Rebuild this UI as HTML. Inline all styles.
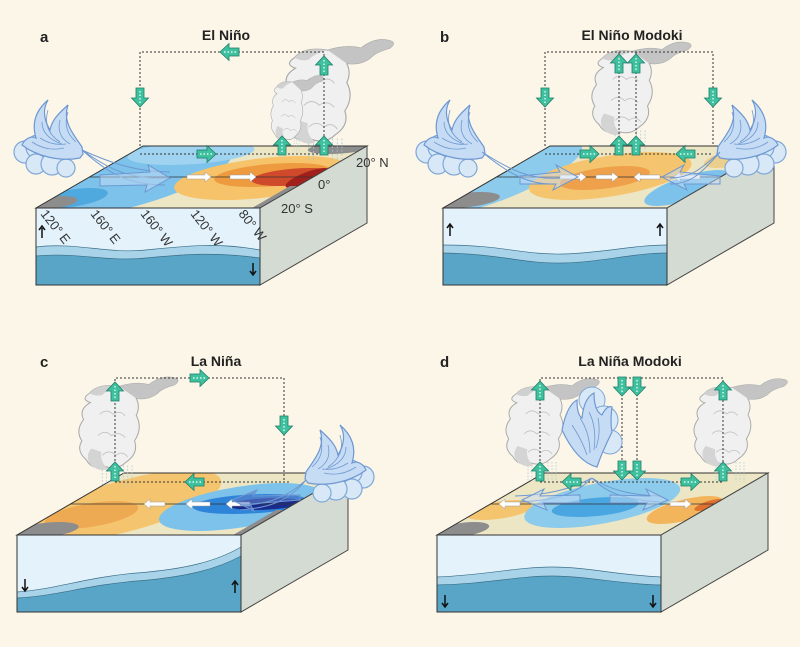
<!DOCTYPE html>
<html><head><meta charset="utf-8"><style>
html,body{margin:0;padding:0;background:#fbf6e7;}
svg{display:block}
text{font-family:"Liberation Sans",sans-serif;}
</style></head><body>
<svg width="800" height="647" viewBox="0 0 800 647" xmlns="http://www.w3.org/2000/svg">
<defs>
<symbol id="ga" viewBox="-9 -10 18 20" overflow="visible">
<polygon points="-4,9 4,9 4,-1 8.5,-1 0,-10 -8.5,-1 -4,-1" fill="#3fc1a0" stroke="#1f7d68" stroke-width="0.8"/>
<line x1="0" y1="-6" x2="0" y2="8" stroke="#fff" stroke-width="1.2" stroke-dasharray="1.5 2"/>
</symbol>
<g id="cloud">
<path d="M-30,-55 q10,-12 35,-8 q20,-6 35,-2 q15,-12 30,-8 q8,2 0,8 q-15,4 -20,10 q-10,8 -25,6 q5,10 0,20 q8,15 -2,30 q5,15 -10,25 q-10,10 -25,5 q-15,5 -22,-8 q-12,-10 -5,-22 q-8,-12 2,-25 q-6,-12 8,-20 q-12,-4 -1,-11z" fill="#f0f0f0" stroke="#a9a9a9" stroke-width="1.2"/>
<path d="M5,-63 q20,-6 35,-2 q15,-12 30,-8 q8,2 0,8 q-15,4 -20,10 q-10,8 -25,6z" fill="#c4c4c4"/>
<path d="M-30,-55 q10,-12 35,-8 q-15,4 -20,10 q-8,2 -15,-2z" fill="#d0d0d0"/>
<g fill="none" stroke="#c2c2c2" stroke-width="1">
<path d="M-18,-30 q8,-8 16,0 q8,-6 14,2"/><path d="M-20,-5 q8,-8 16,0 q8,-6 16,2"/><path d="M-15,18 q8,-8 16,0 q8,-6 14,2"/>
</g>
<path d="M-28,10 q-8,10 0,20 q10,8 20,4 q-10,-8 -8,-20z" fill="#d4d4d4"/>
<g stroke="#9fc4dc" stroke-width="0.8" stroke-dasharray="2 2">
<line x1="-15" y1="35" x2="-15" y2="55"/><line x1="-10" y1="35" x2="-10" y2="55"/><line x1="10" y1="30" x2="10" y2="55"/><line x1="15" y1="30" x2="15" y2="55"/><line x1="20" y1="30" x2="20" y2="55"/>
</g>
</g>
<g id="wind">
<g fill="#d8e8f7" stroke="#7fa7d8" stroke-width="1.2">
<circle cx="-55" cy="2" r="11"/><circle cx="-42" cy="-3" r="12"/><circle cx="-44" cy="14" r="10"/><circle cx="-28" cy="14" r="11"/><circle cx="-14" cy="18" r="9"/>
</g>
<path d="M2,-3 C-6,-15 -18,-28 -12,-45 C-22,-36 -28,-30 -30,-20 C-36,-30 -38,-40 -32,-50 C-46,-38 -48,-25 -44,-12 C-50,-15 -56,-10 -58,-5 C-44,6 -20,12 0,8 l3,-4 z" fill="#c6dcf4" stroke="#6e98d2" stroke-width="1.2"/>
<g fill="none" stroke="#6e98d2" stroke-width="0.8">
<path d="M-12,-38 q-6,18 8,30"/><path d="M-20,-30 q-4,16 10,24"/><path d="M-32,-40 q-6,20 12,32"/><path d="M-38,-28 q0,15 20,22"/><path d="M-48,-8 q15,10 32,6"/><path d="M-40,-12 q12,8 26,6"/>
</g>
</g>
</defs>

<!-- ================= PANEL A ================= -->
<text x="40" y="42" font-size="15" font-weight="bold" fill="#222">a</text>
<text x="226" y="40" font-size="14" font-weight="bold" fill="#222" text-anchor="middle">El Niño</text>
<g transform="translate(36,208)">
  <clipPath id="ta"><polygon points="0,0 224,0 331,-62 107,-62"/></clipPath>
  <g clip-path="url(#ta)"><g transform="matrix(1,0,1.726,-1,0,0)">
    <rect x="-5" y="-5" width="240" height="75" fill="#ede6c4"/>
    <ellipse cx="40" cy="30" rx="80" ry="40" fill="#7cc2ea"/>
    <ellipse cx="60" cy="55" rx="60" ry="12" fill="#9fd3f0"/>
    <ellipse cx="20" cy="10" rx="30" ry="10" fill="#4fa8de"/>
    <ellipse cx="5" cy="5" rx="25" ry="7" fill="#8d8d8d"/>
    <ellipse cx="175" cy="30" rx="80" ry="22" fill="#f6c36a"/>
    <ellipse cx="180" cy="33" rx="55" ry="12" fill="#ee9a3f"/>
    <ellipse cx="205" cy="31" rx="40" ry="9" fill="#cf4a2a"/>
    <ellipse cx="220" cy="30" rx="14" ry="10" fill="#a2201c"/>
    <rect x="216" y="0" width="12" height="22" fill="#8d8d8d"/>
    <ellipse cx="200" cy="60" rx="30" ry="6" fill="#8d8d8d"/>
  </g></g>
  <polygon points="0,0 224,0 331,-62 107,-62" fill="none" stroke="#333" stroke-width="1"/>
  <line x1="53" y1="-31" x2="277" y2="-31" stroke="#333" stroke-width="0.8"/>
  <polygon points="224,0 331,-62 331,15 224,77" fill="#d4dbd3" stroke="#444" stroke-width="1"/>
  <rect x="0" y="0" width="224" height="77" fill="#e3f2fb"/>
  <path d="M0,39 C40,34 70,46 110,42 C150,38 180,34 224,42 L224,77 L0,77Z" fill="#a9d3e9"/>
  <path d="M0,48 C40,44 70,54 110,50 C150,46 180,44 224,50 L224,77 L0,77Z" fill="#58a5c7"/>
  <path d="M0,39 C40,34 70,46 110,42 C150,38 180,34 224,42 M0,48 C40,44 70,54 110,50 C150,46 180,44 224,50" fill="none" stroke="#3b6f88" stroke-width="0.7"/>
  <rect x="0" y="0" width="224" height="77" fill="none" stroke="#333" stroke-width="1"/>
  <path d="M6,30 v-10 M3,22 l3,-4 l3,4" stroke="#111" stroke-width="1.5" fill="none"/>
  <path d="M217,55 v12 M214,63 l3,4 l3,-4" stroke="#111" stroke-width="1.5" fill="none"/>
  <g font-size="13" fill="#333">
   <text transform="translate(4,6) rotate(52)">120° E</text>
   <text transform="translate(54,6) rotate(52)">160° E</text>
   <text transform="translate(104,6) rotate(52)">160° W</text>
   <text transform="translate(154,6) rotate(52)">120° W</text>
   <text transform="translate(202,6) rotate(52)">80° W</text>
  </g>
</g>
<text x="281" y="213" font-size="13" fill="#333">20° S</text>
<text x="318" y="189" font-size="13" fill="#333">0°</text>
<text x="356" y="167" font-size="13" fill="#333">20° N</text>
<g fill="#fff" stroke="#999" stroke-width="0.5">
 <polygon points="187,175 205,175 205,172 211,177 205,182 205,179 187,179"/>
 <polygon points="230,175 250,175 250,172 256,177 250,182 250,179 230,179"/>
</g>
<use href="#cloud" transform="translate(323,110) scale(0.95)"/>
<use href="#cloud" transform="translate(290,120) scale(0.45,0.6)"/>
<polyline points="140,146 140,52 324,52 324,146" fill="none" stroke="#333" stroke-width="1" stroke-dasharray="2 2"/>
<line x1="140" y1="154" x2="324" y2="154" stroke="#333" stroke-width="1" stroke-dasharray="2 2"/>
<use href="#ga" x="-9" y="-10" width="18" height="20" transform="translate(230,52) rotate(-90)"/>
<use href="#ga" x="-9" y="-10" width="18" height="20" transform="translate(140,97) rotate(180)"/>
<use href="#ga" x="-9" y="-10" width="18" height="20" transform="translate(324,66)"/>
<use href="#ga" x="-9" y="-10" width="18" height="20" transform="translate(282,146)"/>
<use href="#ga" x="-9" y="-10" width="18" height="20" transform="translate(324,146)"/>
<use href="#ga" x="-9" y="-10" width="18" height="20" transform="translate(206,154) rotate(90)"/>
<use href="#wind" transform="translate(80,150)"/>
<path d="M82,150 C110,170 130,180 170,178 M82,150 C110,175 130,185 165,185 M82,150 C115,165 140,172 170,172" fill="none" stroke="#6e98d2" stroke-width="1"/>
<polygon points="100,175 150,172 148,165 170,178 145,192 147,185 100,186" fill="#c6dcf4" fill-opacity="0.5" stroke="#6e98d2" stroke-width="1"/>

<!-- ================= PANEL B ================= -->
<text x="440" y="42" font-size="15" font-weight="bold" fill="#222">b</text>
<text x="632" y="40" font-size="14" font-weight="bold" fill="#222" text-anchor="middle">El Niño Modoki</text>
<g transform="translate(443,208)">
  <clipPath id="tb"><polygon points="0,0 224,0 331,-62 107,-62"/></clipPath>
  <g clip-path="url(#tb)"><g transform="matrix(1,0,1.726,-1,0,0)">
    <rect x="-5" y="-5" width="240" height="75" fill="#ede6c4"/>
    <ellipse cx="15" cy="30" rx="40" ry="35" fill="#8ccbec"/>
    <ellipse cx="10" cy="8" rx="30" ry="8" fill="#8d8d8d"/>
    <ellipse cx="112" cy="32" rx="70" ry="24" fill="#f5c46f"/>
    <ellipse cx="110" cy="30" rx="40" ry="12" fill="#eea04a"/>
    <ellipse cx="210" cy="20" rx="30" ry="18" fill="#7cc2ea"/>
    <ellipse cx="205" cy="50" rx="25" ry="10" fill="#eccf8c"/>
  </g></g>
  <polygon points="0,0 224,0 331,-62 107,-62" fill="none" stroke="#333" stroke-width="1"/>
  <line x1="53" y1="-31" x2="277" y2="-31" stroke="#333" stroke-width="0.8"/>
  <polygon points="224,0 331,-62 331,15 224,77" fill="#d4dbd3" stroke="#444" stroke-width="1"/>
  <rect x="0" y="0" width="224" height="77" fill="#e3f2fb"/>
  <path d="M0,37 C60,37 80,47 120,46 C160,45 190,37 224,37 L224,77 L0,77Z" fill="#a9d3e9"/>
  <path d="M0,45 C60,46 80,56 120,55 C160,54 190,45 224,45 L224,77 L0,77Z" fill="#58a5c7"/>
  <path d="M0,37 C60,37 80,47 120,46 C160,45 190,37 224,37 M0,45 C60,46 80,56 120,55 C160,54 190,45 224,45" fill="none" stroke="#3b6f88" stroke-width="0.7"/>
  <rect x="0" y="0" width="224" height="77" fill="none" stroke="#333" stroke-width="1"/>
  <path d="M7,28 v-12 M4,20 l3,-4 l3,4" stroke="#111" stroke-width="1.5" fill="none"/>
  <path d="M217,28 v-12 M214,20 l3,-4 l3,4" stroke="#111" stroke-width="1.5" fill="none"/>
</g>
<use href="#cloud" transform="translate(628,105) scale(0.85)"/>
<polyline points="545,146 545,52 713,52 713,146" fill="none" stroke="#333" stroke-width="1" stroke-dasharray="2 2"/>
<line x1="619" y1="52" x2="619" y2="154" stroke="#333" stroke-width="1" stroke-dasharray="2 2"/>
<line x1="636" y1="52" x2="636" y2="154" stroke="#333" stroke-width="1" stroke-dasharray="2 2"/>
<line x1="545" y1="154" x2="713" y2="154" stroke="#333" stroke-width="1" stroke-dasharray="2 2"/>
<use href="#ga" x="-9" y="-10" width="18" height="20" transform="translate(619,64)"/>
<use href="#ga" x="-9" y="-10" width="18" height="20" transform="translate(636,64)"/>
<use href="#ga" x="-9" y="-10" width="18" height="20" transform="translate(545,97) rotate(180)"/>
<use href="#ga" x="-9" y="-10" width="18" height="20" transform="translate(713,97) rotate(180)"/>
<use href="#ga" x="-9" y="-10" width="18" height="20" transform="translate(619,146)"/>
<use href="#ga" x="-9" y="-10" width="18" height="20" transform="translate(636,146)"/>
<use href="#ga" x="-9" y="-10" width="18" height="20" transform="translate(589,154) rotate(90)"/>
<use href="#ga" x="-9" y="-10" width="18" height="20" transform="translate(686,154) rotate(-90)"/>
<g fill="#fff" stroke="#999" stroke-width="0.5">
 <polygon points="560,175 580,175 580,172 586,177 580,182 580,179 560,179"/>
 <polygon points="596,175 612,175 612,172 618,177 612,182 612,179 596,179"/>
 <polygon points="660,175 640,175 640,172 634,177 640,182 640,179 660,179"/>
 <polygon points="700,175 680,175 680,172 674,177 680,182 680,179 700,179"/>
</g>
<polygon points="520,176 560,172 556,165 578,177 553,190 556,184 520,184" fill="#c6dcf4" fill-opacity="0.5" stroke="#6e98d2" stroke-width="1"/>
<polygon points="720,176 680,172 684,165 662,177 687,190 684,184 720,184" fill="#c6dcf4" fill-opacity="0.5" stroke="#6e98d2" stroke-width="1"/>
<use href="#wind" transform="translate(482,150)"/>
<use href="#wind" transform="translate(720,150) scale(-1,1)"/>
<path d="M482,152 C510,170 530,180 560,178 M482,152 C510,175 530,185 555,184" fill="none" stroke="#6e98d2" stroke-width="1"/>
<path d="M720,152 C700,170 690,178 670,178 M720,152 C700,175 690,184 670,184" fill="none" stroke="#6e98d2" stroke-width="1"/>

<!-- ================= PANEL C ================= -->
<text x="40" y="367" font-size="15" font-weight="bold" fill="#222">c</text>
<text x="216" y="366" font-size="14" font-weight="bold" fill="#222" text-anchor="middle">La Niña</text>
<g transform="translate(17,535)">
  <clipPath id="tc"><polygon points="0,0 224,0 331,-62 107,-62"/></clipPath>
  <g clip-path="url(#tc)"><g transform="matrix(1,0,1.726,-1,0,0)">
    <rect x="-5" y="-5" width="240" height="75" fill="#ede6c4"/>
    <ellipse cx="60" cy="30" rx="70" ry="35" fill="#f5c46f"/>
    <ellipse cx="40" cy="20" rx="40" ry="14" fill="#eeaa52"/>
    <ellipse cx="20" cy="5" rx="30" ry="8" fill="#8d8d8d"/>
    <ellipse cx="175" cy="28" rx="70" ry="24" fill="#7cc2ea"/>
    <ellipse cx="180" cy="31" rx="55" ry="10" fill="#2d84d8"/>
    <ellipse cx="195" cy="31" rx="35" ry="6" fill="#1a2b8e"/>
    <rect x="216" y="0" width="12" height="25" fill="#8d8d8d"/>
  </g></g>
  <polygon points="0,0 224,0 331,-62 107,-62" fill="none" stroke="#333" stroke-width="1"/>
  <line x1="53" y1="-31" x2="277" y2="-31" stroke="#333" stroke-width="0.8"/>
  <polygon points="224,0 331,-62 331,15 224,77" fill="#d4dbd3" stroke="#444" stroke-width="1"/>
  <rect x="0" y="0" width="224" height="77" fill="#e3f2fb"/>
  <path d="M0,57 C40,54 70,42 120,38 C170,34 200,26 224,12 L224,77 L0,77Z" fill="#a9d3e9"/>
  <path d="M0,63 C40,61 70,50 120,46 C170,42 200,34 224,21 L224,77 L0,77Z" fill="#58a5c7"/>
  <path d="M0,57 C40,54 70,42 120,38 C170,34 200,26 224,12 M0,63 C40,61 70,50 120,46 C170,42 200,34 224,21" fill="none" stroke="#3b6f88" stroke-width="0.7"/>
  <rect x="0" y="0" width="224" height="77" fill="none" stroke="#333" stroke-width="1"/>
  <path d="M8,44 v12 M5,52 l3,4 l3,-4" stroke="#111" stroke-width="1.5" fill="none"/>
  <path d="M218,58 v-12 M215,50 l3,-4 l3,4" stroke="#111" stroke-width="1.5" fill="none"/>
</g>
<g fill="#fff" stroke="#999" stroke-width="0.5">
 <polygon points="165,502 150,502 150,499 144,504 150,509 150,506 165,506"/>
 <polygon points="210,502 192,502 192,499 186,504 192,509 192,506 210,506"/>
 <polygon points="250,502 232,502 232,499 226,504 232,509 232,506 250,506"/>
</g>
<polygon points="300,500 250,504 254,511 232,500 257,490 253,496 300,495" fill="#5d7fc8" fill-opacity="0.6" stroke="#6e98d2" stroke-width="1"/>
<use href="#cloud" transform="translate(115,440) scale(0.85)"/>
<polyline points="115,473 115,378 284,378 284,480" fill="none" stroke="#333" stroke-width="1" stroke-dasharray="2 2"/>
<line x1="115" y1="482" x2="290" y2="482" stroke="#333" stroke-width="1" stroke-dasharray="2 2"/>
<use href="#ga" x="-9" y="-10" width="18" height="20" transform="translate(199,378) rotate(90)"/>
<use href="#ga" x="-9" y="-10" width="18" height="20" transform="translate(115,392)"/>
<use href="#ga" x="-9" y="-10" width="18" height="20" transform="translate(284,425) rotate(180)"/>
<use href="#ga" x="-9" y="-10" width="18" height="20" transform="translate(115,472)"/>
<use href="#ga" x="-9" y="-10" width="18" height="20" transform="translate(195,482) rotate(-90)"/>
<use href="#wind" transform="translate(308,475) scale(-1,1)"/>
<path d="M306,480 C290,495 270,505 240,505 M306,480 C290,500 270,508 240,510" fill="none" stroke="#6e98d2" stroke-width="1"/>

<!-- ================= PANEL D ================= -->
<text x="440" y="367" font-size="15" font-weight="bold" fill="#222">d</text>
<text x="630" y="366" font-size="14" font-weight="bold" fill="#222" text-anchor="middle">La Niña Modoki</text>
<g transform="translate(437,535)">
  <clipPath id="td"><polygon points="0,0 224,0 331,-62 107,-62"/></clipPath>
  <g clip-path="url(#td)"><g transform="matrix(1,0,1.726,-1,0,0)">
    <rect x="-5" y="-5" width="240" height="75" fill="#ede6c4"/>
    <ellipse cx="20" cy="25" rx="30" ry="10" fill="#f5c46f"/>
    <ellipse cx="15" cy="5" rx="25" ry="8" fill="#8d8d8d"/>
    <ellipse cx="110" cy="32" rx="65" ry="25" fill="#8ccbec"/>
    <ellipse cx="110" cy="28" rx="40" ry="10" fill="#4aa6e0"/>
    <ellipse cx="205" cy="25" rx="30" ry="14" fill="#f3b55c"/>
    <ellipse cx="220" cy="30" rx="10" ry="6" fill="#e0722f"/>
  </g></g>
  <polygon points="0,0 224,0 331,-62 107,-62" fill="none" stroke="#333" stroke-width="1"/>
  <line x1="53" y1="-31" x2="277" y2="-31" stroke="#333" stroke-width="0.8"/>
  <polygon points="224,0 331,-62 331,15 224,77" fill="#d4dbd3" stroke="#444" stroke-width="1"/>
  <rect x="0" y="0" width="224" height="77" fill="#e3f2fb"/>
  <path d="M0,42 C50,40 80,32 115,32 C150,32 180,40 224,42 L224,77 L0,77Z" fill="#a9d3e9"/>
  <path d="M0,50 C50,49 80,41 115,41 C150,41 180,49 224,50 L224,77 L0,77Z" fill="#58a5c7"/>
  <path d="M0,42 C50,40 80,32 115,32 C150,32 180,40 224,42 M0,50 C50,49 80,41 115,41 C150,41 180,49 224,50" fill="none" stroke="#3b6f88" stroke-width="0.7"/>
  <rect x="0" y="0" width="224" height="77" fill="none" stroke="#333" stroke-width="1"/>
  <path d="M8,60 v12 M5,68 l3,4 l3,-4" stroke="#111" stroke-width="1.5" fill="none"/>
  <path d="M216,60 v12 M213,68 l3,4 l3,-4" stroke="#111" stroke-width="1.5" fill="none"/>
</g>
<use href="#cloud" transform="translate(540,438) scale(0.8)"/>
<use href="#cloud" transform="translate(728,438) scale(0.8)"/>
<polyline points="540,473 540,378 723,378 723,473" fill="none" stroke="#333" stroke-width="1" stroke-dasharray="2 2"/>
<line x1="622" y1="378" x2="622" y2="482" stroke="#333" stroke-width="1" stroke-dasharray="2 2"/>
<line x1="637" y1="378" x2="637" y2="482" stroke="#333" stroke-width="1" stroke-dasharray="2 2"/>
<line x1="540" y1="482" x2="723" y2="482" stroke="#333" stroke-width="1" stroke-dasharray="2 2"/>
<g transform="translate(592,430)">
 <circle cx="0" cy="-30" r="13" fill="#d8e8f7" stroke="#7fa7d8"/>
 <circle cx="12" cy="-10" r="14" fill="#d8e8f7" stroke="#7fa7d8"/>
 <circle cx="18" cy="12" r="12" fill="#d8e8f7" stroke="#7fa7d8"/>
 <path d="M-30,0 q5,-25 15,-30 q0,15 5,18 q2,-20 12,-25 q0,18 8,22 q5,-10 10,-8 q-2,15 0,25 q-10,20 -15,35 q-20,-5 -35,-37z" fill="#c6dcf4" stroke="#6e98d2" stroke-width="1.2"/>
 <g fill="none" stroke="#6e98d2" stroke-width="0.8"><path d="M-20,-5 q10,15 15,30"/><path d="M-12,-12 q10,15 10,35"/><path d="M-3,-18 q8,15 5,38"/><path d="M6,-12 q3,15 -2,30"/></g>
</g>
<path d="M592,478 C570,490 545,495 515,496 M592,478 C575,495 555,500 520,502 M592,478 C610,490 630,495 660,496 M592,478 C608,495 630,500 660,502" fill="none" stroke="#6e98d2" stroke-width="1"/>
<polygon points="580,495 540,496 544,489 522,500 547,510 543,503 580,503" fill="#c6dcf4" fill-opacity="0.5" stroke="#6e98d2" stroke-width="1"/>
<polygon points="610,495 650,496 646,489 668,500 643,510 647,503 610,503" fill="#c6dcf4" fill-opacity="0.5" stroke="#6e98d2" stroke-width="1"/>
<g fill="#fff" stroke="#999" stroke-width="0.5">
 <polygon points="520,502 505,502 505,499 499,504 505,509 505,506 520,506"/>
 <polygon points="670,502 685,502 685,499 691,504 685,509 685,506 670,506"/>
</g>
<use href="#ga" x="-9" y="-10" width="18" height="20" transform="translate(540,391)"/>
<use href="#ga" x="-9" y="-10" width="18" height="20" transform="translate(723,391)"/>
<use href="#ga" x="-9" y="-10" width="18" height="20" transform="translate(622,386) rotate(180)"/>
<use href="#ga" x="-9" y="-10" width="18" height="20" transform="translate(637,386) rotate(180)"/>
<use href="#ga" x="-9" y="-10" width="18" height="20" transform="translate(540,472)"/>
<use href="#ga" x="-9" y="-10" width="18" height="20" transform="translate(723,472)"/>
<use href="#ga" x="-9" y="-10" width="18" height="20" transform="translate(622,470) rotate(180)"/>
<use href="#ga" x="-9" y="-10" width="18" height="20" transform="translate(637,470) rotate(180)"/>
<use href="#ga" x="-9" y="-10" width="18" height="20" transform="translate(572,482) rotate(-90)"/>
<use href="#ga" x="-9" y="-10" width="18" height="20" transform="translate(690,482) rotate(90)"/>
</svg>
</body></html>
